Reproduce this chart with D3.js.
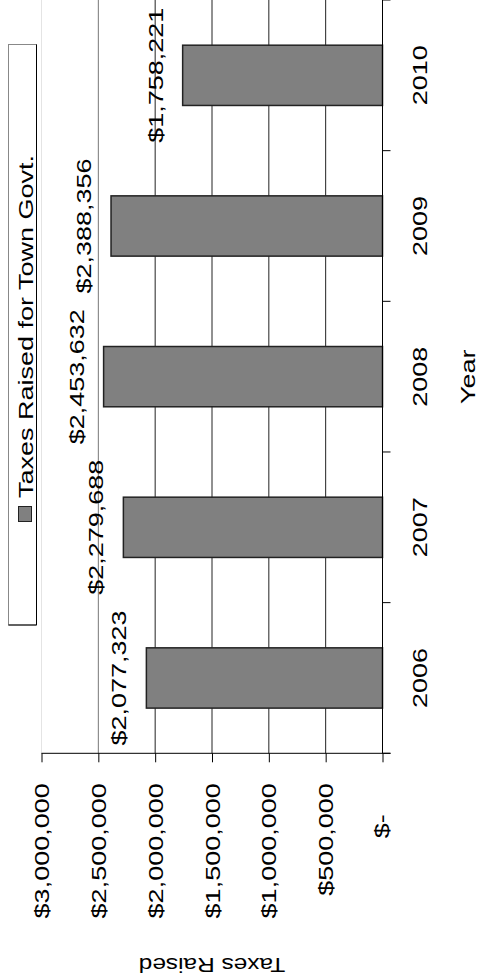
<!DOCTYPE html>
<html>
<head>
<meta charset="utf-8">
<script src="https://cdn.jsdelivr.net/npm/d3@7"></script>
<style>
    body { margin: 0; background: #fff; }
    svg text { font-family: "Liberation Sans", Arial, sans-serif; font-size: 20px; fill: #000; }
</style>
</head>
<body>
<svg id="chart"></svg>
<script>
'use strict';

var years = ['2006', '2007', '2008', '2009', '2010'];
var taxes = [2077323, 2279688, 2453632, 2388356, 1758221];
var valueTicks = [0, 500000, 1000000, 1500000, 2000000, 2500000, 3000000];
var seriesName = 'Taxes Raised for Town Govt.';
var valueTitle = 'Taxes Raised';
var categoryTitle = 'Year';

var width = 487, height = 980;
var plotLeft = 41.5, plotRight = 382.5, plotTop = 0, plotBottom = 753.3;
var stretch = 1.35; // the source font runs wide

var svg = d3.select('#chart').attr('width', width).attr('height', height);

// chart is turned on its side: values run right -> left, years bottom -> top
var x = d3.scaleLinear().domain([0, 3000000]).range([plotRight, plotLeft]);
var y = d3.scaleBand().domain(years.slice().reverse())
    .range([plotTop, plotBottom]).paddingInner(0.6).paddingOuter(0.3);

function money(d) {
    return d === 0 ? '$-' : '$' + d3.format(',')(d);
}

// gridlines
svg.append('g').attr('class', 'grid')
    .selectAll('line').data(valueTicks.filter(function (d) { return d > 0; }))
    .enter().append('line')
    .attr('x1', function (d) { return x(d); }).attr('x2', function (d) { return x(d); })
    .attr('y1', plotTop).attr('y2', plotBottom)
    .attr('stroke', function (d) { return d === 3000000 ? '#e4e4e4' : (d === 2500000 ? '#777' : '#222'); })
    .attr('stroke-width', 1);

// bars
var rows = years.map(function (yr, i) { return { year: yr, value: taxes[i] }; });
svg.append('g').attr('class', 'bars')
    .selectAll('rect').data(rows).enter().append('rect')
    .attr('x', function (d) { return x(d.value); })
    .attr('y', function (d) { return y(d.year); })
    .attr('width', function (d) { return x(0) - x(d.value); })
    .attr('height', y.bandwidth())
    .attr('fill', '#808080')
    .attr('stroke', '#222')
    .attr('stroke-width', 1.5);

// data labels
svg.append('g').attr('class', 'labels')
    .selectAll('text').data(rows).enter().append('text')
    .attr('transform', function (d) {
        return 'translate(' + (x(d.value) - 20) + ',' + (y(d.year) + y.bandwidth() / 2) + ') rotate(-90) scale(' + stretch + ',1)';
    })
    .attr('text-anchor', 'middle')
    .text(function (d) { return money(d.value); });

// value axis (along the bottom)
var xAxis = svg.append('g').attr('class', 'x-axis')
    .attr('transform', 'translate(0,' + plotBottom + ')')
    .call(d3.axisBottom(x).tickValues(valueTicks).tickSize(9).tickSizeOuter(0).tickFormat(money));
xAxis.select('.domain').remove();
xAxis.selectAll('.tick line').attr('stroke', '#000');
xAxis.selectAll('.tick text')
    .attr('y', null).attr('dy', null)
    .attr('text-anchor', 'end')
    .attr('transform', function (d) {
        return d === 0 ? 'translate(6,61) rotate(-90) scale(' + stretch + ',1)'
                       : 'translate(7,30) rotate(-90) scale(' + stretch + ',1)';
    })
    .style('font-size', null).style('font-family', null);
xAxis.append('line').attr('x1', plotLeft).attr('x2', plotRight + 8).attr('y1', 0).attr('y2', 0).attr('stroke', '#000');

// category axis (along the right)
var yAxis = svg.append('g').attr('class', 'y-axis')
    .attr('transform', 'translate(' + plotRight + ',0)')
    .call(d3.axisRight(y).tickSize(0).tickSizeOuter(0));
yAxis.select('.domain').remove();
yAxis.selectAll('.tick text')
    .attr('x', null).attr('dy', null)
    .attr('text-anchor', 'middle')
    .attr('transform', 'translate(44.5,0) rotate(-90) scale(' + stretch + ',1)');
yAxis.append('line').attr('x1', 0).attr('x2', 0).attr('y1', plotTop).attr('y2', plotBottom).attr('stroke', '#000');
yAxis.selectAll('line.boundary')
    .data(d3.range(years.length + 1))
    .enter().append('line').attr('class', 'boundary')
    .attr('x1', 0).attr('x2', 8)
    .attr('y1', function (i) { return plotTop + i * y.step(); })
    .attr('y2', function (i) { return plotTop + i * y.step(); })
    .attr('stroke', '#000');

// axis titles
svg.append('text')
    .attr('transform', 'translate(475,' + (plotTop + plotBottom) / 2 + ') rotate(-90) scale(' + stretch + ',1)')
    .attr('text-anchor', 'middle')
    .text(categoryTitle);
svg.append('text')
    .attr('transform', 'translate(' + (plotLeft + plotRight) / 2 + ',958) rotate(180) scale(1.22,1)')
    .attr('text-anchor', 'middle')
    .text(valueTitle);

// legend
var legend = svg.append('g').attr('class', 'legend');
legend.append('rect')
    .attr('x', 8.5).attr('y', 44.5).attr('width', 28).attr('height', 580.5)
    .attr('fill', '#fff').attr('stroke', '#888');
legend.append('path')
    .attr('d', 'M36.5,44.5V625H8.5')
    .attr('fill', 'none').attr('stroke', '#000');
legend.append('rect')
    .attr('x', 18.5).attr('y', 506.5).attr('width', 13).attr('height', 15)
    .attr('fill', '#808080').attr('stroke', '#222');
legend.append('text')
    .attr('transform', 'translate(32.5,498) rotate(-90) scale(' + stretch + ',1)')
    .attr('text-anchor', 'start')
    .text(seriesName);
</script>
</body>
</html>
